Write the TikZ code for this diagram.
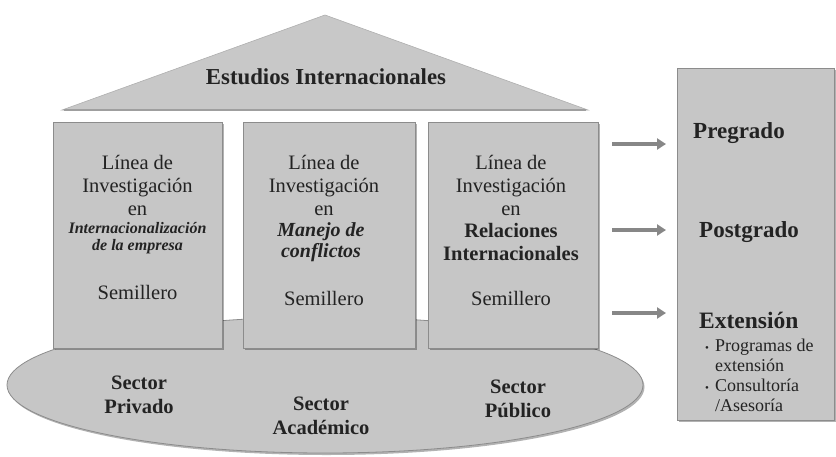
\documentclass[tikz,border=0pt]{standalone}
\usepackage{fontspec}
\setmainfont{Liberation Serif}
\usetikzlibrary{arrows.meta,shadows,shapes.geometric}
\definecolor{boxfill}{RGB}{198,198,198}
\definecolor{boxline}{RGB}{140,140,140}
\definecolor{rooffill}{RGB}{200,200,200}
\definecolor{txt}{RGB}{35,35,35}
\definecolor{arrowcol}{RGB}{135,135,135}
\begin{document}
\begin{tikzpicture}[x=1pt,y=-1pt,
  shade box/.style={draw=boxline, line width=0.8pt, fill=boxfill, inner sep=0pt,
    drop shadow={shadow xshift=1.5pt, shadow yshift=-2pt, fill=black, opacity=0.3}},
  pillar/.style={shade box, minimum width=#1, minimum height=226pt},
  reg/.style={text=txt, align=center, font=\fontsize{20.5}{23}\selectfont, inner sep=0pt},
  title/.style={text=txt, align=center, inner sep=0pt},
  sector/.style={text=txt, align=center, font=\bfseries\fontsize{20.5}{23.5}\selectfont, inner sep=0pt},
  arr/.style={draw=arrowcol, line width=4.5pt, -{Triangle[length=9pt,width=11pt]}},
  paneltext/.style={text=txt, anchor=west, inner sep=0pt}
]
\useasboundingbox (0,0) rectangle (836,456);

% base ellipse
\node[ellipse, shade box, minimum width=636pt, minimum height=136pt] (base) at (325,385) {};

% roof
\draw[fill=rooffill, draw=boxline!70, line width=0.6pt] (62,110) -- (325,15) -- (588,110) -- cycle;
\draw[draw=gray!75, line width=2.2pt] (64,110) -- (586,110);
\node[text=txt, font=\bfseries\fontsize{22.8}{26}\selectfont, inner sep=0pt] (roof) at (326,77) {Estudios Internacionales};

% pillars
\node[pillar=169pt] (p1) at (137.5,235) {};
\node[pillar=172pt] (p2) at (329,235) {};
\node[pillar=170pt] (p3) at (513,235) {};

\node[reg] (l1) at (137.5,185) {Línea de\\Investigación\\en};
\node[title, font=\bfseries\itshape\fontsize{16}{17}\selectfont] (t1) at (137.5,238.5) {Internacionalización\\de la empresa};
\node[reg] (s1) at (137.5,292) {Semillero};

\node[reg] (l2) at (324,185) {Línea de\\Investigación\\en};
\node[title, font=\bfseries\itshape\fontsize{20}{21}\selectfont] (t2) at (321,242.5) {Manejo de\\conflictos};
\node[reg] (s2) at (324,298) {Semillero};

\node[reg] (l3) at (511,185) {Línea de\\Investigación\\en};
\node[title, font=\bfseries\fontsize{20.5}{23}\selectfont] (t3) at (511,241.5) {Relaciones\\Internacionales};
\node[reg] (s3) at (511,298) {Semillero};

% sectors
\node[sector] (sp) at (139,395) {Sector\\Privado};
\node[sector] (sa) at (321,416) {Sector\\Académico};
\node[sector] (su) at (518,399) {Sector\\Público};

% right panel
\node[shade box, minimum width=157pt, minimum height=352pt] (panel) at (755.5,244) {};
\node[paneltext, font=\bfseries\fontsize{23}{26}\selectfont] (pre) at (693,133) {Pregrado};
\node[paneltext, font=\bfseries\fontsize{23}{26}\selectfont] (post) at (699,232) {Postgrado};
\node[paneltext, font=\bfseries\fontsize{23.5}{27}\selectfont] (ext) at (699,320) {Extensión};
\node[paneltext, font=\fontsize{18}{20}\selectfont] (list) at (705,377)
  {\begin{tabular}{@{}l@{\hspace{6pt}}l@{}}{\fontsize{11}{20}\selectfont\textbullet} & Programas de\\ & extensión\\{\fontsize{11}{20}\selectfont\textbullet} & Consultoría\\ & /Asesoría\end{tabular}};

% arrows
\coordinate (a1s) at (612,144); \coordinate (a1e) at (666,144);
\coordinate (a2s) at (612,230); \coordinate (a2e) at (666,230);
\coordinate (a3s) at (612,313); \coordinate (a3e) at (666,313);
\draw[arr] (a1s) -- (a1e);
\draw[arr] (a2s) -- (a2e);
\draw[arr] (a3s) -- (a3e);
\end{tikzpicture}
\end{document}
